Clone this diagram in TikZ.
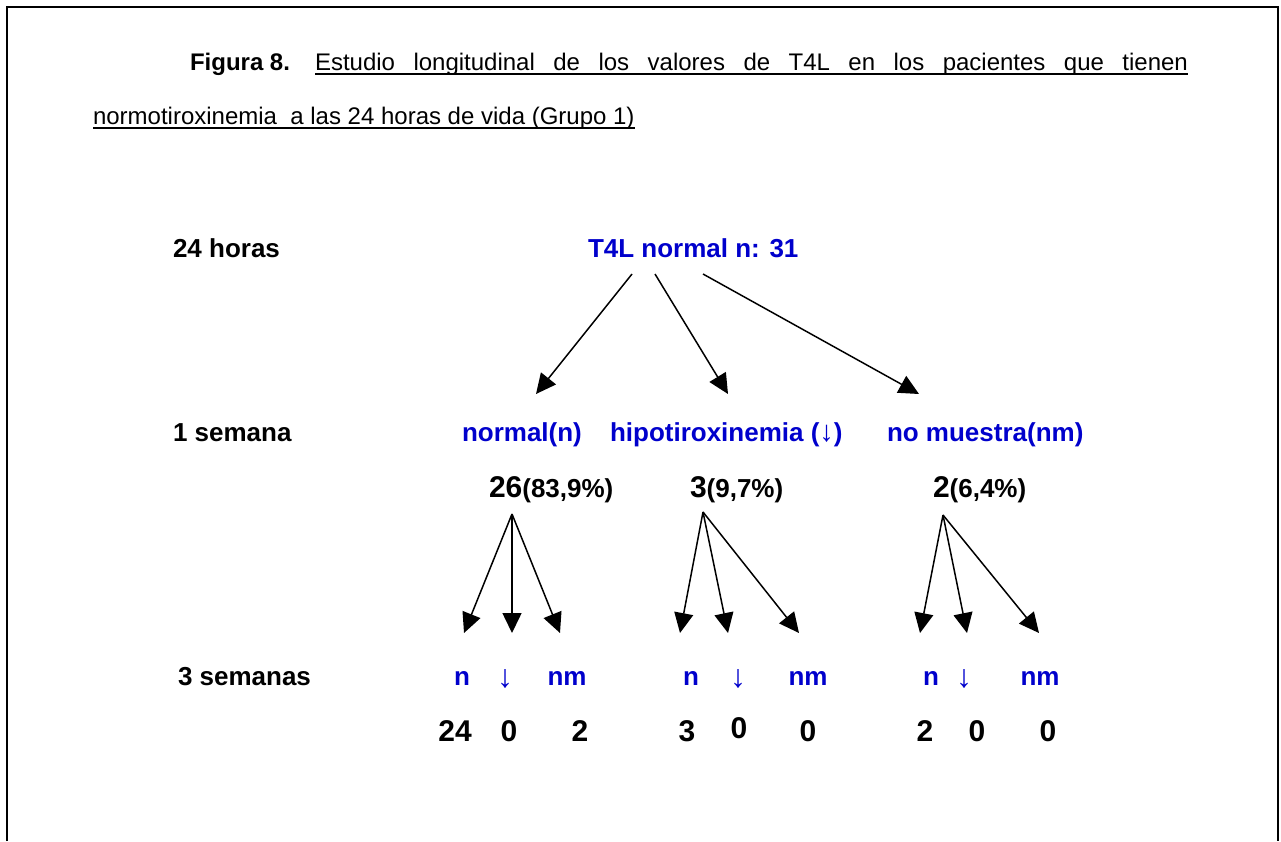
\documentclass[tikz,border=0pt]{standalone}
\usepackage{fontspec}
\setmainfont{Liberation Sans}
\newfontfamily\arrowfont{Liberation Sans}
\usetikzlibrary{arrows.meta}
\definecolor{lblue}{RGB}{0,0,204}
\begin{document}
\begin{tikzpicture}[x=1pt,y=-1pt,
  every node/.style={inner sep=0pt,outer sep=0pt},
  tt/.style={font=\fontsize{24}{28}\selectfont, anchor=base west},
  lbl/.style={font=\fontsize{26}{30}\selectfont\bfseries, anchor=base west},
  blu/.style={lbl, text=lblue},
  cnt/.style={font=\fontsize{30}{36}\selectfont\bfseries, anchor=base},
  sm/.style={font=\fontsize{26}{30}\selectfont\bfseries, text=lblue, anchor=base},
  dn/.style={font=\fontsize{32}{36}\selectfont\arrowfont, text=lblue, anchor=base},
  arr/.style={line width=1.5pt, -{Triangle[length=20pt,width=19pt]}},
  ul/.style={line width=1.6pt}
]
\useasboundingbox (0,0) rectangle (1281,841);
\draw[line width=2pt] (7,841) -- (7,7) -- (1278,7) -- (1278,841);

% title
\node[tt,font=\fontsize{24}{28}\selectfont\bfseries] (fig) at (190,70) {Figura 8.};
\node[tt] (t1) at (315,70) {\makebox[873pt][s]{Estudio longitudinal de los valores de T4L en los pacientes que tienen}};
\draw[ul] ([yshift=-4pt]t1.base west) -- ([yshift=-4pt]t1.base east);
\node[tt] (t2) at (93,124) {normotiroxinemia\ \ a las 24 horas de vida (Grupo 1)};
\draw[ul] ([yshift=-4pt]t2.base west) -- ([yshift=-4pt]t2.base east);

% row labels
\node[lbl] (h24) at (173,257) {24 horas};
\node[lbl] (s1) at (173,441) {1 semana};
\node[lbl] (s3) at (178,685) {3 semanas};

% level 0
\node[blu] (root) at (588,257) {T4L normal n: 31};

% level 1
\node[blu] (bn) at (462,441) {normal(n)};
\node[blu] (bh) at (610,441) {hipotiroxinemia ({\fontsize{29}{30}\selectfont\arrowfont\mdseries ↓})};
\node[blu] (bm) at (887,441) {no muestra(nm)};
\node[lbl] (cn) at (489,497) {{\fontsize{30}{36}\selectfont 26}(83,9\%)};
\node[lbl] (ch) at (690,497) {{\fontsize{30}{36}\selectfont 3}(9,7\%)};
\node[lbl] (cm) at (933,497) {{\fontsize{30}{36}\selectfont 2}(6,4\%)};

% level 2 labels
\node[sm] (an1) at (462,685) {n};
\node[dn] (ad1) at (505,687) {↓};
\node[sm] (am1) at (567,685) {nm};
\node[sm] (an2) at (691,685) {n};
\node[dn] (ad2) at (738,687) {↓};
\node[sm] (am2) at (808,685) {nm};
\node[sm] (an3) at (931,685) {n};
\node[dn] (ad3) at (964,687) {↓};
\node[sm] (am3) at (1040,685) {nm};

\node[cnt] (vn1) at (455,741) {24};
\node[cnt] (vd1) at (509,741) {0};
\node[cnt] (vm1) at (580,741) {2};
\node[cnt] (vn2) at (687,741) {3};
\node[cnt] (vd2) at (739,738) {0};
\node[cnt] (vm2) at (808,741) {0};
\node[cnt] (vn3) at (925,741) {2};
\node[cnt] (vd3) at (977,741) {0};
\node[cnt] (vm3) at (1048,741) {0};

% arrow end points
\coordinate (r1) at (632,274);
\coordinate (r2) at (655,274);
\coordinate (r3) at (703,274);
\coordinate (e1) at (536,394);
\coordinate (e2) at (728,394);
\coordinate (e3) at (919,394);
\draw[arr] (r1) -- (e1);
\draw[arr] (r2) -- (e2);
\draw[arr] (r3) -- (e3);

\coordinate (p1) at (512,514);
\coordinate (p2) at (703,512);
\coordinate (p3) at (943,515);
\coordinate (q11) at (464,633);
\coordinate (q12) at (512,633);
\coordinate (q13) at (560,633);
\coordinate (q21) at (680,633);
\coordinate (q22) at (728,633);
\coordinate (q23) at (799,633);
\coordinate (q31) at (920,633);
\coordinate (q32) at (967,633);
\coordinate (q33) at (1039,633);
\foreach \g in {1,2,3}{
  \foreach \k in {1,2,3}{
    \draw[arr] (p\g) -- (q\g\k);
  }
}
\end{tikzpicture}
\end{document}
